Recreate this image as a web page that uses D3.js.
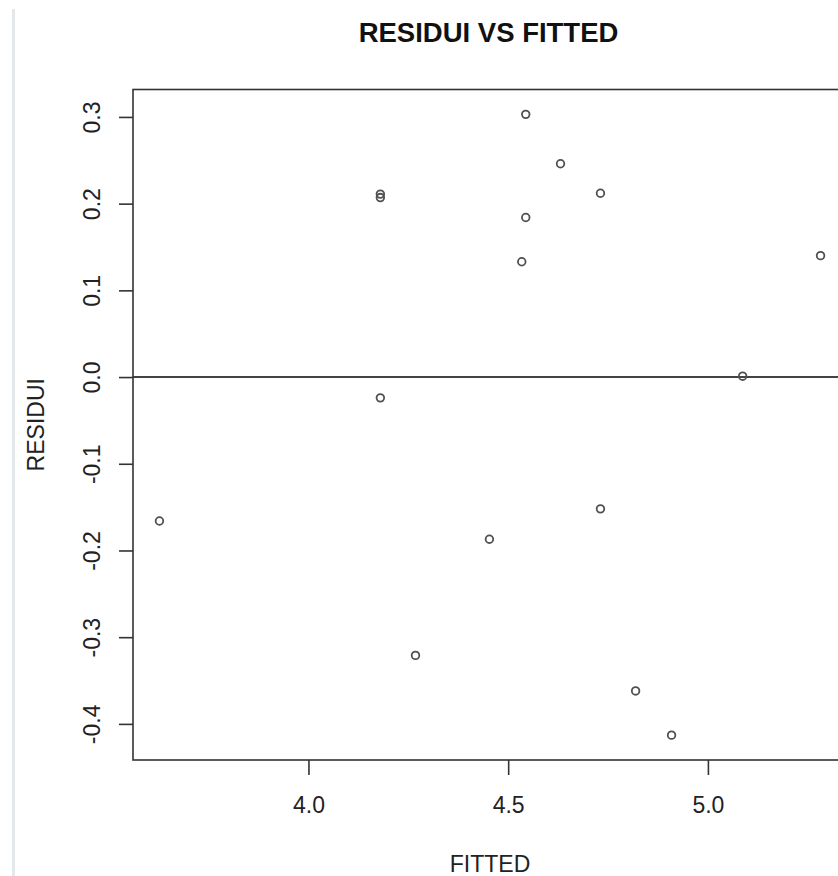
<!DOCTYPE html>
<html>
<head>
<meta charset="utf-8">
<script src="https://cdn.jsdelivr.net/npm/d3@7"></script>
<style>
  html, body { margin: 0; padding: 0; background: #fff; }
  svg { display: block; }
  text { font-family: "Liberation Sans", Arial, sans-serif; }
</style>
</head>
<body>
<svg id="chart" width="838" height="876"></svg>
<script>
// Data
const fitted  = [3.627, 4.180, 4.180, 4.180, 4.268, 4.453, 4.534, 4.544, 4.544, 4.631, 4.731, 4.731, 4.819, 4.909, 5.087, 5.282];
const residui = [-0.166, 0.211, 0.207, -0.024, -0.321, -0.187, 0.133, 0.303, 0.184, 0.246, 0.212, -0.152, -0.362, -0.413, 0.001, 0.140];
const xTicks = [4.0, 4.5, 5.0];
const yTicks = [0.3, 0.2, 0.1, 0.0, -0.1, -0.2, -0.3, -0.4];
const title = "RESIDUI VS FITTED";
const xLabel = "FITTED";
const yLabel = "RESIDUI";

(function () {
const svg = d3.select("#chart");
const fmt = d => d.toFixed(1);   // plain hyphen-minus as in R

// Plot region (R-like, domain extended 4% beyond data)
const pL = 133, pR = 847, pT = 89.5, pB = 760;
function ext(arr) {
  const [a, b] = d3.extent(arr);
  const p = (b - a) * 0.04;
  return [a - p, b + p];
}
const x = d3.scaleLinear().domain(ext(fitted)).range([pL, pR]);
const y = d3.scaleLinear().domain(ext(residui)).range([pB, pT]);

// left light gray border of the page
svg.append("line")
  .attr("x1", 13.5).attr("x2", 13.5).attr("y1", 9).attr("y2", 876)
  .attr("stroke", "#e4e8eb").attr("stroke-width", 3);

// zero reference line
svg.append("line")
  .attr("x1", pL).attr("x2", pR)
  .attr("y1", y(0)).attr("y2", y(0))
  .attr("stroke", "#444").attr("stroke-width", 2);

// box
svg.append("rect")
  .attr("x", pL).attr("y", pT)
  .attr("width", pR - pL).attr("height", pB - pT)
  .attr("fill", "none").attr("stroke", "#333").attr("stroke-width", 1.6);

// x axis
const xAxis = d3.axisBottom(x).tickValues(xTicks).tickFormat(fmt)
  .tickSize(15).tickPadding(22);
const gx = svg.append("g").attr("transform", `translate(0,${pB})`).call(xAxis);
gx.select(".domain").remove();
gx.selectAll(".tick line").attr("stroke", "#333").attr("stroke-width", 1.6);
gx.selectAll(".tick text").attr("font-size", 23).attr("fill", "#222")
  .attr("font-family", "'Liberation Sans', Arial, sans-serif");

// y axis (labels rotated like R's default las=0)
const yAxis = d3.axisLeft(y).tickValues(yTicks).tickFormat(fmt)
  .tickSize(14).tickPadding(0);
const gy = svg.append("g").attr("transform", `translate(${pL},0)`).call(yAxis);
gy.select(".domain").remove();
gy.selectAll(".tick line").attr("stroke", "#333").attr("stroke-width", 1.6);
gy.selectAll(".tick text")
  .attr("font-size", 23).attr("fill", "#222")
  .attr("font-family", "'Liberation Sans', Arial, sans-serif")
  .attr("x", null).attr("dy", null)
  .attr("text-anchor", "middle")
  .attr("transform", "translate(-33,0) rotate(-90)");

// points
svg.append("g").selectAll("circle")
  .data(fitted.map((f, i) => ({ f, r: residui[i] })))
  .join("circle")
  .attr("cx", d => x(d.f)).attr("cy", d => y(d.r))
  .attr("r", 3.8)
  .attr("fill", "none").attr("stroke", "#505050").attr("stroke-width", 1.8);

// title
svg.append("text")
  .attr("x", (pL + pR) / 2 - 1.5).attr("y", 41.5)
  .attr("text-anchor", "middle")
  .attr("font-size", 27.5).attr("font-weight", "bold").attr("fill", "#111")
  .text(title);

// axis labels
svg.append("text")
  .attr("x", (pL + pR) / 2).attr("y", 872)
  .attr("text-anchor", "middle")
  .attr("font-size", 23).attr("fill", "#222")
  .text(xLabel);

svg.append("text")
  .attr("transform", `translate(44,${(pT + pB) / 2}) rotate(-90)`)
  .attr("text-anchor", "middle")
  .attr("font-size", 23).attr("fill", "#222")
  .text(yLabel);
})();
</script>
</body>
</html>
